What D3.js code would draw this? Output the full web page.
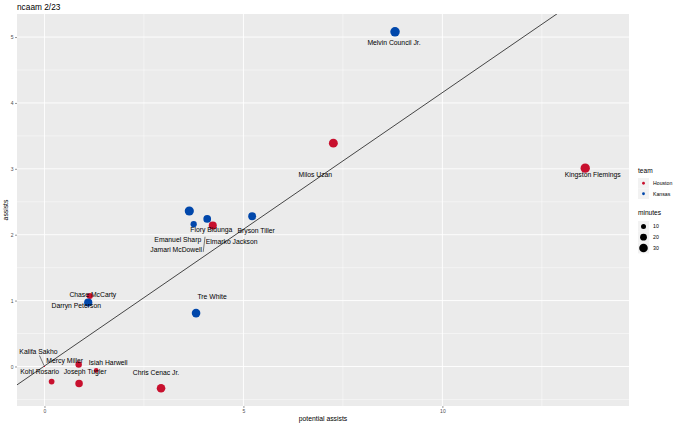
<!DOCTYPE html>
<html>
<head>
<meta charset="utf-8">
<script src="https://cdn.jsdelivr.net/npm/d3@7"></script>
<style>
  body { margin: 0; background: #fff; }
  svg text { font-family: "Liberation Sans", Arial, sans-serif; }
</style>
</head>
<body>
<svg id="chart" width="680" height="426"></svg>
<script>
// datos
var players = ["Melvin Council Jr.", "Milos Uzan", "Kingston Flemings", "Flory Bidunga", "Elmarko Jackson",
  "Jamari McDowell", "Emanuel Sharp", "Bryson Tiller", "Chase McCarty", "Darryn Peterson", "Tre White",
  "Kalifa Sakho", "Mercy Miller", "Isiah Harwell", "Kohl Rosario", "Joseph Tugler", "Chris Cenac Jr."];
var teams = ["Kansas", "Houston", "Houston", "Kansas", "Kansas",
  "Kansas", "Houston", "Kansas", "Houston", "Kansas", "Kansas",
  "Houston", "Houston", "Houston", "Houston", "Houston", "Houston"];
var potAssists = [8.81, 7.26, 13.59, 3.64, 3.75, 4.09, 4.23, 5.22, 1.14, 1.10, 3.81, 0.0, 0.86, 1.30, 0.18, 0.87, 2.93];
var assists = [5.08, 3.39, 3.01, 2.36, 2.16, 2.24, 2.14, 2.28, 1.07, 0.97, 0.81, 0.0, 0.03, -0.06, -0.23, -0.26, -0.33];
var minutes = [35, 32, 34, 33, 17, 25, 27, 26, 16, 28, 30, 0, 18, 8, 14, 24, 30];

var teamNames = ["Houston", "Kansas"];
var teamColors = ["#C8102E", "#0047AB"];
var sizeBreaks = [10, 20, 30];
var xTicks = [0, 5, 10];
var yTicks = [0, 1, 2, 3, 4, 5];
var fit = {slope: 0.415, intercept: 0.007};

// posicion de etiquetas (px desde el punto), estilo ggrepel
var nudge = {
  "Melvin Council Jr.": [-1, 11], "Milos Uzan": [-18, 31], "Kingston Flemings": [7.5, 6],
  "Flory Bidunga": [22, 19], "Elmarko Jackson": [38, 17], "Jamari McDowell": [-31, 31],
  "Emanuel Sharp": [-35, 14], "Bryson Tiller": [4, 14], "Chase McCarty": [3, -1],
  "Darryn Peterson": [-12, 3], "Tre White": [16, -17], "Kalifa Sakho": [-6, -15],
  "Mercy Miller": [-14, -4], "Isiah Harwell": [12, -8], "Kohl Rosario": [-12, -10],
  "Joseph Tugler": [6, -12], "Chris Cenac Jr.": [-5, -16]
};
// segmentos: inicio relativo a la etiqueta, distancia libre al punto
var segs = {
  "Kalifa Sakho": [1, 4, 1],
  "Jamari McDowell": [27, 2, 18]
};

var data = players.map(function(p, i){
  return {name: p, team: teams[i], x: potAssists[i], y: assists[i], m: minutes[i]};
});

var svg = d3.select("#chart");
var pan = {l: 17, r: 629, t: 14, b: 406};

var sx = d3.scaleLinear().domain([-0.69, 14.69]).range([pan.l, pan.r]);
var sy = d3.scaleLinear().domain([-0.6, 5.35]).range([pan.b, pan.t]);
var sr = d3.scaleLinear().domain([0, 40]).range([1.6, 5.2]);
var sc = d3.scaleOrdinal().domain(teamNames).range(teamColors);

svg.append("text").attr("x", 17).attr("y", 10).attr("font-size", 8.3).attr("fill", "#000").text("ncaam 2/23");

svg.append("rect").attr("x", pan.l).attr("y", pan.t).attr("width", pan.r - pan.l).attr("height", pan.b - pan.t)
  .attr("fill", "#EBEBEB");

var g = svg.append("g");
var xMinor = [2.5, 7.5, 12.5];
var yMinor = [-0.5, 0.5, 1.5, 2.5, 3.5, 4.5];

g.selectAll(".xmin").data(xMinor).enter().append("line")
  .attr("x1", sx).attr("x2", sx).attr("y1", pan.t).attr("y2", pan.b)
  .attr("stroke", "#fff").attr("stroke-width", 0.45);
g.selectAll(".ymin").data(yMinor).enter().append("line")
  .attr("y1", sy).attr("y2", sy).attr("x1", pan.l).attr("x2", pan.r)
  .attr("stroke", "#fff").attr("stroke-width", 0.45);
g.selectAll(".xmaj").data(xTicks).enter().append("line")
  .attr("x1", sx).attr("x2", sx).attr("y1", pan.t).attr("y2", pan.b)
  .attr("stroke", "#fff").attr("stroke-width", 0.9);
g.selectAll(".ymaj").data(yTicks).enter().append("line")
  .attr("y1", sy).attr("y2", sy).attr("x1", pan.l).attr("x2", pan.r)
  .attr("stroke", "#fff").attr("stroke-width", 0.9);

// ejes
var ax = svg.append("g").attr("transform", "translate(0," + pan.b + ")")
  .call(d3.axisBottom(sx).tickValues(xTicks).tickFormat(d3.format("d")).tickSize(2).tickPadding(1.5));
var ay = svg.append("g").attr("transform", "translate(" + pan.l + ",0)")
  .call(d3.axisLeft(sy).tickValues(yTicks).tickFormat(d3.format("d")).tickSize(2).tickPadding(1.5));
[ax, ay].forEach(function(a){
  a.select(".domain").remove();
  a.selectAll("line").attr("stroke", "#333").attr("stroke-width", 0.5);
  a.selectAll("text").attr("font-size", 5).attr("fill", "#4D4D4D").attr("font-family", "Liberation Sans, Arial, sans-serif");
});

svg.append("text").attr("x", (pan.l + pan.r) / 2).attr("y", 421).attr("text-anchor", "middle")
  .attr("font-size", 6.8).text("potential assists");
svg.append("text").attr("transform", "translate(8," + ((pan.t + pan.b) / 2) + ") rotate(-90)")
  .attr("text-anchor", "middle").attr("font-size", 6.8).text("assists");

// recta de ajuste
svg.append("clipPath").attr("id", "pclip").append("rect")
  .attr("x", pan.l).attr("y", pan.t).attr("width", pan.r - pan.l).attr("height", pan.b - pan.t);
var xd = sx.domain();
svg.append("line").attr("clip-path", "url(#pclip)")
  .attr("x1", sx(xd[0])).attr("y1", sy(fit.intercept + fit.slope * xd[0]))
  .attr("x2", sx(xd[1])).attr("y2", sy(fit.intercept + fit.slope * xd[1]))
  .attr("stroke", "#1a1a1a").attr("stroke-width", 0.8);

// puntos
svg.append("g").selectAll("circle").data(data).enter().append("circle")
  .attr("cx", function(d){ return sx(d.x); })
  .attr("cy", function(d){ return sy(d.y); })
  .attr("r", function(d){ return d.m > 0 ? sr(d.m) : 0.6; })
  .attr("fill", function(d){ return sc(d.team); });

// segmentos de etiquetas
data.forEach(function(d){
  var s = segs[d.name];
  if (!s) return;
  var n = nudge[d.name];
  var px = sx(d.x), py = sy(d.y);
  var x0 = px + n[0] + s[0], y0 = py + n[1] + s[1];
  var len = Math.hypot(px - x0, py - y0);
  var f = (len - s[2]) / len;
  svg.append("line").attr("x1", x0).attr("y1", y0)
    .attr("x2", x0 + (px - x0) * f).attr("y2", y0 + (py - y0) * f)
    .attr("stroke", "#000").attr("stroke-width", 0.5);
});

svg.append("g").selectAll("text").data(data).enter().append("text")
  .attr("x", function(d){ return sx(d.x) + nudge[d.name][0]; })
  .attr("y", function(d){ return sy(d.y) + nudge[d.name][1]; })
  .attr("text-anchor", "middle").attr("dominant-baseline", "central")
  .attr("font-size", 6.8).attr("fill", "#000")
  .text(function(d){ return d.name; });

// leyendas
var lg = svg.append("g").attr("transform", "translate(638,0)");
lg.append("text").attr("x", 0).attr("y", 173).attr("font-size", 6.6).text("team");
var tk = lg.selectAll(".tk").data(teamNames).enter().append("g")
  .attr("transform", function(d, i){ return "translate(0," + (178 + i * 10.5) + ")"; });
tk.append("rect").attr("width", 11).attr("height", 10.5).attr("fill", "#F2F2F2");
tk.append("circle").attr("cx", 5.5).attr("cy", 5.25).attr("r", 1.4).attr("fill", function(d){ return sc(d); });
tk.append("text").attr("x", 15).attr("y", 5.25).attr("dominant-baseline", "central")
  .attr("font-size", 5.2).text(function(d){ return d; });

lg.append("text").attr("x", 0).attr("y", 215).attr("font-size", 6.6).text("minutes");
var sk = lg.selectAll(".sk").data(sizeBreaks).enter().append("g")
  .attr("transform", function(d, i){ return "translate(0," + (221 + i * 10.8) + ")"; });
sk.append("rect").attr("width", 11).attr("height", 10.8).attr("fill", "#F2F2F2");
sk.append("circle").attr("cx", 5.5).attr("cy", 5.4).attr("r", function(d){ return sr(d); }).attr("fill", "#000");
sk.append("text").attr("x", 15).attr("y", 5.4).attr("dominant-baseline", "central")
  .attr("font-size", 5.2).text(function(d){ return d; });
</script>
</body>
</html>
